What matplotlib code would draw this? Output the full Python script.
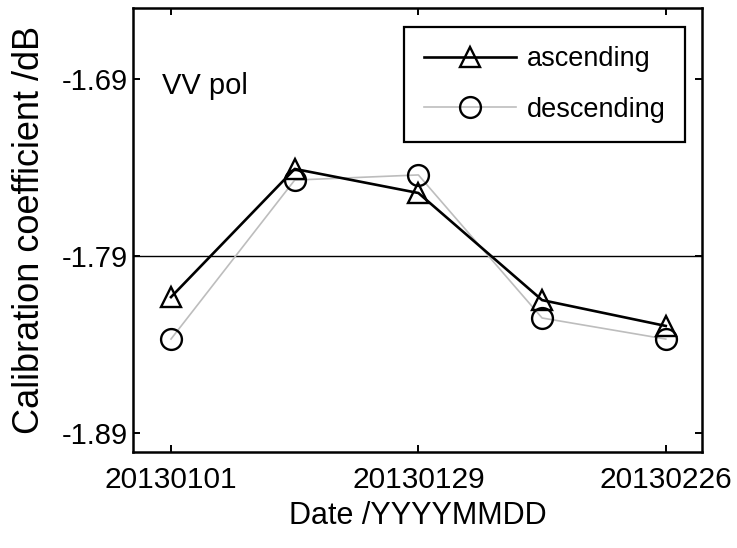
import matplotlib
matplotlib.use("Agg")
import matplotlib.pyplot as plt
import pandas as pd

# acquisition dates and calibration coefficients (dB)
dates = ["20130101", "20130115", "20130129", "20130212", "20130226"]
ascending = [-1.8132, -1.7408, -1.7544, -1.8149, -1.8295]
descending = [-1.8369, -1.7471, -1.7442, -1.8250, -1.8369]
mean_level = -1.79

tick_dates = ["20130101", "20130129", "20130226"]
ytick_vals = [-1.69, -1.79, -1.89]
ytick_labels = ["-1.69", "-1.79", "-1.89"]

font = "Liberation Sans"

t0 = pd.to_datetime(dates[0])
x = [(pd.to_datetime(d) - t0).days for d in dates]
xt = [(pd.to_datetime(d) - t0).days for d in tick_dates]

fig = plt.figure(figsize=(7.37, 5.48), dpi=100)
ax = fig.add_axes([133 / 737, 1 - 452 / 548, 569 / 737, 444 / 548])

ax.axhline(mean_level, color="black", lw=1.0, zorder=1)
ax.plot(x, descending, color="#bdbdbd", lw=1.2, marker="o", ms=15,
        mfc="none", mec="black", mew=1.7, label="descending", zorder=2)
ax.plot(x, ascending, color="black", lw=1.9, marker="^", ms=15,
        mfc="none", mec="black", mew=1.7, label="ascending", zorder=3)

ax.set_xlim(-4.3, 60.1)
ax.set_ylim(-1.9007, -1.6499)
ax.set_xticks(xt)
ax.set_xticklabels(tick_dates, fontfamily=font, fontsize=21.5)
ax.set_yticks(ytick_vals)
ax.set_yticklabels(ytick_labels, fontfamily=font, fontsize=21)
ax.tick_params(direction="in", top=True, right=True, length=5, width=1.4)
ax.tick_params(axis="x", pad=10)
ax.tick_params(axis="y", pad=4)
for s in ax.spines.values():
    s.set_linewidth(1.8)

ax.set_xlabel("Date /YYYYMMDD", fontfamily=font, fontsize=22)
ax.xaxis.set_label_coords(0.5, -0.11)
ax.set_ylabel("Calibration coefficient /dB", fontfamily=font, fontsize=26)
ax.yaxis.set_label_coords(-0.152, 0.5)

fig.text(162 / 737, 1 - 86 / 548, "VV pol", fontfamily=font, fontsize=21,
         va="center", ha="left")

handles, labels = ax.get_legend_handles_labels()
leg = ax.legend(handles[::-1], labels[::-1], loc="upper right",
                bbox_to_anchor=(685 / 737, 1 - 27 / 548),
                bbox_transform=fig.transFigure, borderaxespad=0,
                prop={"family": font, "size": 19.5}, numpoints=1,
                handlelength=3.4, handletextpad=0.4, labelspacing=0.9,
                borderpad=0.72, fancybox=False, framealpha=1)
leg.get_frame().set_edgecolor("black")
leg.get_frame().set_linewidth(1.6)

fig.savefig("out.png", dpi=100)
plt.close(fig)
